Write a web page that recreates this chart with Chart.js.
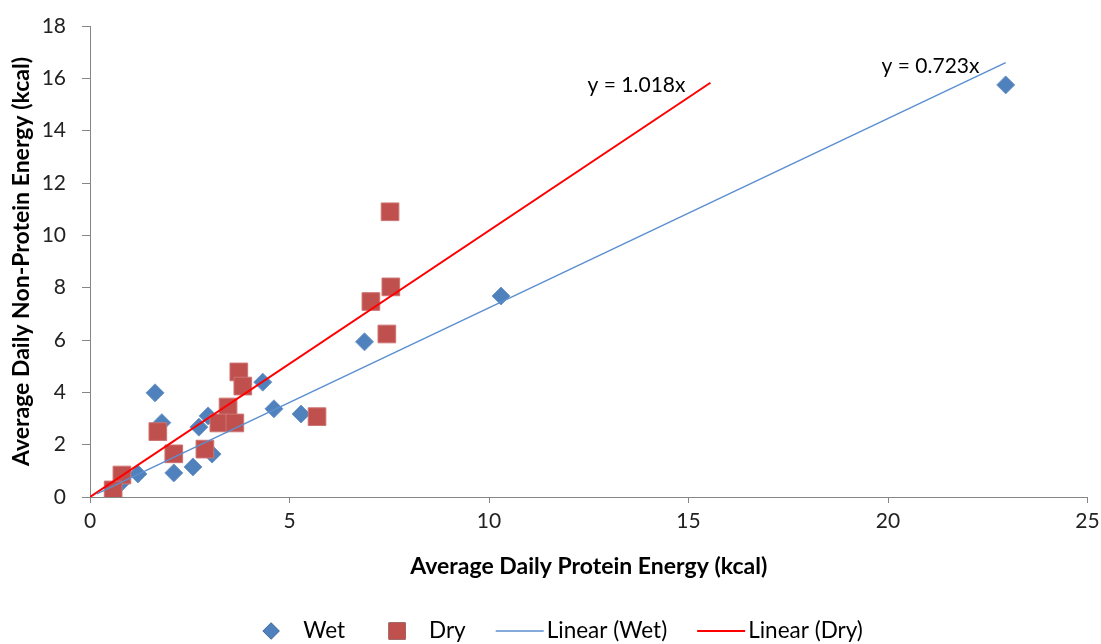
<!DOCTYPE html>
<html>
<head>
<meta charset="utf-8">
<script src="https://cdn.jsdelivr.net/npm/chart.js@4.4.0/dist/chart.umd.min.js"></script>
<style>
  html, body { margin: 0; padding: 0; background: #fff; }
  #wrap { width: 1101px; height: 644px; }
</style>
</head>
<body>
<div id="wrap"><canvas id="chart"></canvas></div>
<script>
// wet food points (protein kcal, non-protein kcal)
const wetX = [22.95, 10.3, 6.88, 4.33, 4.61, 5.29, 1.63, 1.8, 2.96, 2.73, 3.06, 2.58, 2.1, 1.2, 0.75];
const wetY = [15.75, 7.68, 5.93, 4.39, 3.37, 3.17, 3.98, 2.84, 3.1, 2.67, 1.64, 1.15, 0.92, 0.88, 0.5];

// dry food points
const dryX = [7.52, 7.54, 7.04, 7.44, 5.69, 3.73, 3.83, 3.46, 3.23, 3.63, 1.7, 2.88, 2.1, 0.8, 0.58];
const dryY = [10.9, 8.03, 7.47, 6.23, 3.07, 4.78, 4.24, 3.44, 2.83, 2.83, 2.5, 1.83, 1.65, 0.84, 0.27];

// trendline end points
const wetFitX = [0.17, 22.95];
const wetFitY = [0.12, 16.6];
const dryFitX = [0, 15.55];
const dryFitY = [0, 15.83];

// equation labels and where they sit (data units)
const fitLabels = ["y = 1.018x", "y = 0.723x"];
const fitLabelX = [12.47, 19.84];
const fitLabelY = [15.74, 16.47];

const xTicks = [0, 5, 10, 15, 20, 25];
const yTicks = [0, 2, 4, 6, 8, 10, 12, 14, 16, 18];

const legendNames = ["Wet", "Dry", "Linear (Wet)", "Linear (Dry)"];

const BLUE = "#4F81BD";
const RED = "#C0504D";
const FONT = "Lato, 'Liberation Sans', sans-serif";

const toPoints = (xs, ys) => xs.map((x, i) => ({ x: x, y: ys[i] }));

// equation text next to each trendline
const fitLabelPlugin = {
  id: "fitLabels",
  afterDatasetsDraw(chart) {
    const ctx = chart.ctx;
    const xs = chart.scales.x;
    const ys = chart.scales.y;
    ctx.save();
    ctx.font = "21px " + FONT;
    ctx.fillStyle = "#000";
    ctx.textBaseline = "middle";
    ctx.textAlign = "left";
    fitLabels.forEach((t, i) => {
      ctx.fillText(t, xs.getPixelForValue(fitLabelX[i]), ys.getPixelForValue(fitLabelY[i]));
    });
    ctx.restore();
  },
};

// excel style legend: small markers for points, long strokes for lines
const bottomLegend = {
  id: "bottomLegend",
  afterDraw(chart) {
    const ctx = chart.ctx;
    const y = 631;
    ctx.save();
    ctx.font = "22.5px " + FONT;
    ctx.textBaseline = "middle";
    const items = chart.data.datasets.map((ds, i) => {
      const isLine = ds.type === "line";
      return {
        ds: ds,
        text: legendNames[i],
        box: isLine ? 48 : 16,
        gap: isLine ? 3 : 24,
        tw: ctx.measureText(legendNames[i]).width,
        isLine: isLine,
      };
    });
    const spacing = [44, 30, 30];
    let total = 0;
    items.forEach((it, i) => {
      total += it.box + it.gap + it.tw + (i < spacing.length ? spacing[i] : 0);
    });
    let x = 563 - total / 2;
    items.forEach((it, i) => {
      if (it.isLine) {
        ctx.strokeStyle = it.ds.borderColor;
        ctx.lineWidth = it.ds.borderWidth;
        ctx.beginPath();
        ctx.moveTo(x, y);
        ctx.lineTo(x + it.box, y);
        ctx.stroke();
      } else {
        Chart.helpers.drawPoint(ctx, {
          pointStyle: it.ds.pointStyle,
          radius: it.ds.pointStyle === "rect" ? 12 : 8.5,
          borderWidth: 0,
        }, x + it.box / 2, y);
        ctx.fillStyle = it.ds.backgroundColor;
        ctx.fill();
      }
      ctx.fillStyle = "#000";
      ctx.fillText(it.text, x + it.box + it.gap, y);
      x += it.box + it.gap + it.tw + (i < spacing.length ? spacing[i] : 0);
    });
    ctx.restore();
  },
};

function init() {
  const config = {
    type: "scatter",
    data: {
      datasets: [
        {
          label: "Wet",
          data: toPoints(wetX, wetY),
          pointStyle: "rectRot",
          pointRadius: 9,
          pointHoverRadius: 9,
          backgroundColor: BLUE,
          borderColor: "#6f97c9",
          borderWidth: 1,
          order: 2,
        },
        {
          label: "Dry",
          data: toPoints(dryX, dryY),
          pointStyle: "rect",
          pointRadius: 12.5,
          pointHoverRadius: 12.5,
          backgroundColor: RED,
          borderColor: "#cc7472",
          borderWidth: 1,
          order: 1,
        },
        {
          type: "line",
          label: "Linear (Wet)",
          data: toPoints(wetFitX, wetFitY),
          borderColor: "#5B8FD0",
          borderWidth: 1.5,
          pointRadius: 0,
          fill: false,
          order: 0,
        },
        {
          type: "line",
          label: "Linear (Dry)",
          data: toPoints(dryFitX, dryFitY),
          borderColor: "#FF0000",
          borderWidth: 2,
          pointRadius: 0,
          fill: false,
          order: 0,
        },
      ],
    },
    options: {
      responsive: true,
      maintainAspectRatio: false,
      animation: false,
      layout: { padding: { top: 26, right: 13, bottom: 64, left: 0 } },
      plugins: {
        legend: { display: false },
        tooltip: { enabled: false },
      },
      scales: {
        x: {
          type: "linear",
          min: 0,
          max: 25,
          afterBuildTicks: (s) => { s.ticks = xTicks.map((v) => ({ value: v })); },
          afterFit: (s) => {
            s.height = 83;
            s.paddingLeft = 0;
            s.paddingRight = 0;
          },
          grid: { drawOnChartArea: false, drawTicks: true, tickLength: 6, color: "#868686" },
          border: { color: "#868686" },
          ticks: { padding: 6, color: "#222", font: { family: FONT, size: 21 } },
          title: {
            display: true,
            text: "Average Daily Protein Energy (kcal)",
            color: "#000",
            padding: { top: 0, bottom: 0 },
            font: { family: FONT, size: 23, weight: "bold" },
          },
        },
        y: {
          type: "linear",
          min: 0,
          max: 18,
          afterBuildTicks: (s) => { s.ticks = yTicks.map((v) => ({ value: v })); },
          afterFit: (s) => {
            s.width = 90;
            s.paddingTop = 0;
            s.paddingBottom = 0;
          },
          grid: { drawOnChartArea: false, drawTicks: true, tickLength: 8, color: "#868686" },
          border: { color: "#868686" },
          ticks: { padding: 16, color: "#222", font: { family: FONT, size: 21 } },
          title: {
            display: true,
            text: "Average Daily Non-Protein Energy (kcal)",
            color: "#000",
            padding: { top: 8, bottom: 0 },
            font: { family: FONT, size: 23, weight: "bold" },
          },
        },
      },
    },
    plugins: [fitLabelPlugin, bottomLegend],
  };

  new Chart(document.getElementById("chart"), config);
}

document.addEventListener("DOMContentLoaded", init);
</script>
</body>
</html>
